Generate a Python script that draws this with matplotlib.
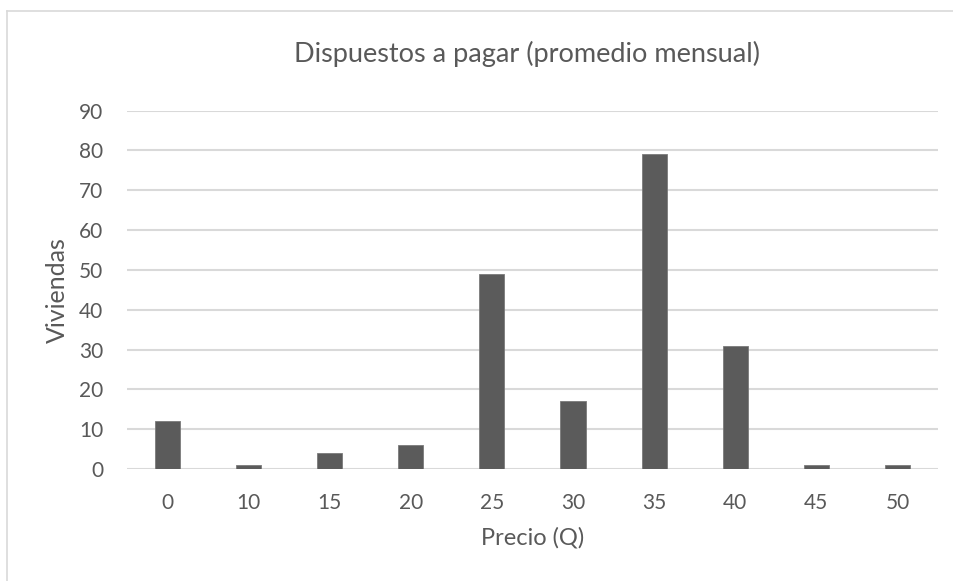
import matplotlib.pyplot as plt
from matplotlib.lines import Line2D

precios = ["0", "10", "15", "20", "25", "30", "35", "40", "45", "50"]
viviendas = [12, 1, 4, 6, 49, 17, 79, 31, 1, 1]
y_ticks = [0, 10, 20, 30, 40, 50, 60, 70, 80, 90]

gris_texto = "#595959"
gris_barra = "#5b5b5b"
gris_linea = "#d9d9d9"

plt.rcParams['font.family'] = ['Lato', 'DejaVu Sans']

fig = plt.figure(figsize=(9.54, 5.81), dpi=100)
ax = fig.add_axes([0.1331, 0.1928, 0.8501, 0.6167])

x = list(range(len(precios)))
ax.bar(x, viviendas, width=0.31, color=gris_barra, edgecolor="#7a7a7a",
       linewidth=0.6, zorder=3)

ax.set_xlim(-0.5, len(precios) - 0.5)
ax.set_ylim(0, 90)
ax.set_yticks(y_ticks)
ax.set_xticks(x)
ax.set_xticklabels(precios)
ax.grid(axis="y", color=gris_linea, linewidth=1.5, zorder=0)
ax.tick_params(length=0, labelsize=15, colors=gris_texto)
ax.tick_params(axis="x", pad=17)
ax.tick_params(axis="y", pad=17)
for s in ax.spines.values():
    s.set_visible(False)

ax.set_xlabel("Precio (Q)", fontsize=17, color=gris_texto, va="center")
ax.set_ylabel("Viviendas", fontsize=18, color=gris_texto, va="center")
ax.xaxis.set_label_coords(0.5, -0.193)
ax.yaxis.set_label_coords(-0.086, 0.5)
fig.text(0.5525, 0.907, "Dispuestos a pagar (promedio mensual)", fontsize=19.5,
         color=gris_texto, ha="center", va="center")

# marco del gráfico
fig.add_artist(Line2D([0.007, 1.0], [0.981, 0.981], color=gris_linea, linewidth=1.2))
fig.add_artist(Line2D([0.007, 0.007], [0.0, 0.981], color=gris_linea, linewidth=1.2))

fig.savefig("out.png", dpi=100, facecolor="white")
